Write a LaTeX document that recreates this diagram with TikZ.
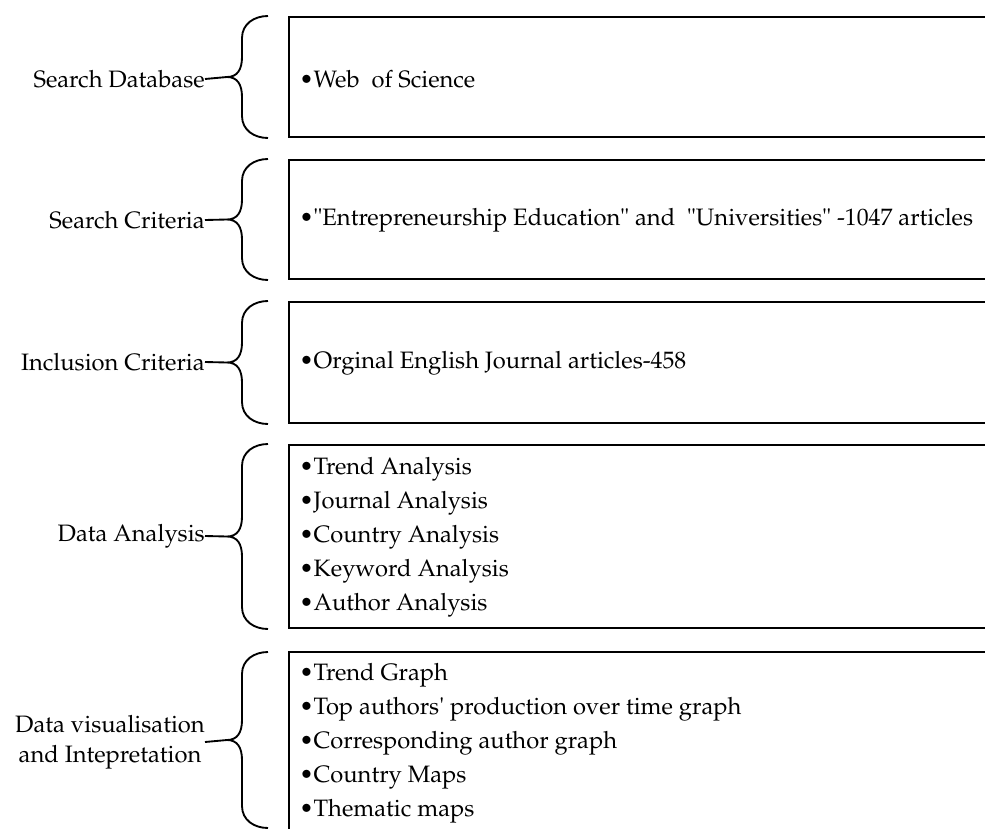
\documentclass[tikz,border=0pt]{standalone}
\usepackage[T1]{fontenc}
\usepackage{mathpazo}
\begin{document}
\begin{tikzpicture}[x=0.75pt,y=-0.75pt,
  font=\fontsize{17.8}{25.5}\selectfont,
  boxframe/.style={draw, line width=2.1pt, rectangle, inner sep=0, minimum width=533.25pt},
  bracepath/.style={line width=1.4pt},
  lbl/.style={anchor=east, inner sep=0, align=center},
  items/.style={anchor=west, inner sep=0, align=left},
  link/.style={line width=1.4pt}]
\useasboundingbox (0,0) rectangle (985,828);
\clip (0,0) rectangle (985,828);

% boxes (right edge beyond the picture)
\node[boxframe, minimum height=90pt]    (b1) at (644.5,77) {};
\node[boxframe, minimum height=89.25pt] (b2) at (644.5,219.5) {};
\node[boxframe, minimum height=90.75pt] (b3) at (644.5,362.5) {};
\node[boxframe, minimum height=137.25pt](b4) at (644.5,536.5) {};
\node[boxframe, minimum height=150pt]   (b5) at (644.5,752) {};

% box texts
\node[items] (t1) at (299,79) {\textbullet Web\ \ of Science};
\node[items] (t2) at (299,220) {\textbullet"Entrepreneurship Education" and\ \ "Universities" -1047 articles};
\node[items] (t3) at (299,363) {\textbullet Orginal English Journal articles-458};
\node[items] (t4) at (299,537) {\textbullet Trend Analysis\\\textbullet Journal Analysis\\\textbullet Country Analysis\\\textbullet Keyword Analysis\\\textbullet Author Analysis};
\node[items] (t5) at (299,743) {\textbullet Trend Graph\\\textbullet Top authors\textquotesingle\ production over time graph\\\textbullet Corresponding author graph\\\textbullet Country Maps\\\textbullet Thematic maps};

% labels
\node[lbl] (l1) at (205,79) {Search Database};
\node[lbl] (l2) at (205,220) {Search Criteria};
\node[lbl] (l3) at (205,362) {Inclusion Criteria};
\node[lbl] (l4) at (205,536) {Data Analysis};
\node[lbl, font=\fontsize{17.8}{22.5}\selectfont] (l5) at (205,742) {Data visualisation\\and Intepretation};

% braces
\foreach \t/\b/\n in {16/138/1, 159/280/2, 301/424/3, 444/629/4, 652/828/5}{
  \pgfmathsetmacro{\m}{(\t+\b)/2}
  \coordinate (tip\n) at (227,\m);
  \draw[bracepath] (268,\t) .. controls (254,\t) and (242,\t+8) .. (242,\t+22)
     -- (242,\m-20) .. controls (242,\m-7) and (237,\m) .. (tip\n)
     .. controls (237,\m) and (242,\m+7) .. (242,\m+20)
     -- (242,\b-22) .. controls (242,\b-8) and (254,\b) .. (268,\b);
}

% connectors from labels to brace tips
\draw[link] (l1.east) -- (tip1);
\draw[link] (l2.east) -- (tip2);
\draw[link] (l3.east) -- (tip3);
\draw[link] (l4.east) -- (tip4);
\draw[link] (l5.east) -- (tip5);
\end{tikzpicture}
\end{document}
